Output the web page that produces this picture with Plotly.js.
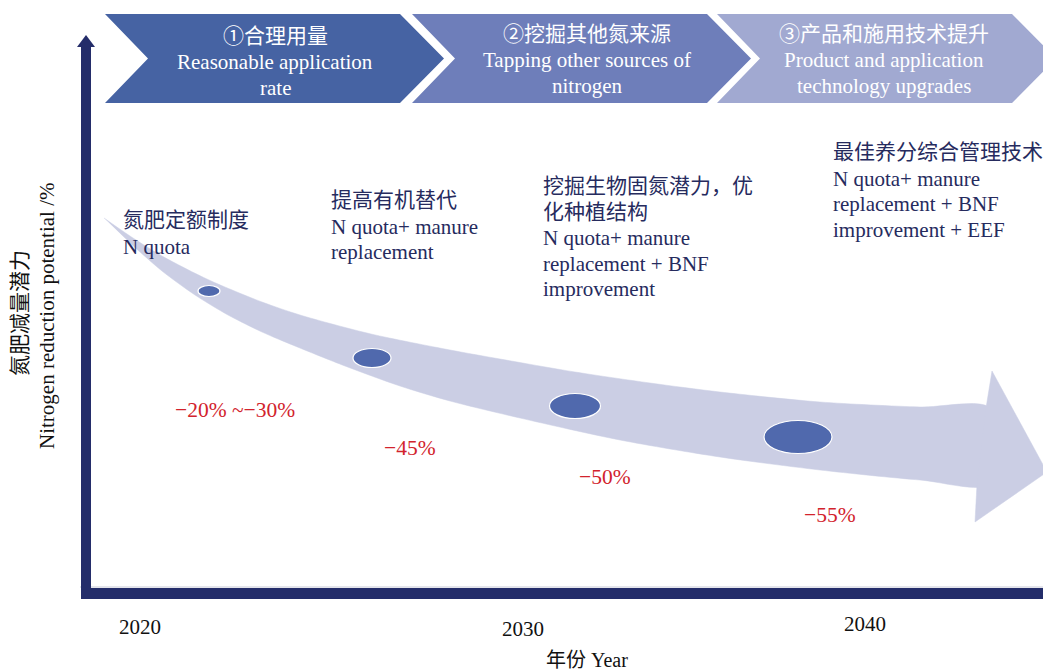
<!DOCTYPE html>
<html><head><meta charset="utf-8">
<script src="https://cdn.plot.ly/plotly-3.0.1.min.js"></script>
<style>body{margin:0;background:#fff}#chart{width:1043px;height:672px}</style>
</head><body><div id="chart"></div>
<script>
// ---- data ----
const stageCN = ['①合理用量', '②挖掘其他氮来源', '③产品和施用技术提升'];
const stageEN = [['Reasonable application', 'rate'], ['Tapping other sources of', 'nitrogen'], ['Product and application', 'technology upgrades']];
const strategyCN = [['氮肥定额制度'], ['提高有机替代'], ['挖掘生物固氮潜力，优', '化种植结构'], ['最佳养分综合管理技术']];
const strategyEN = [['N quota'], ['N quota+ manure', 'replacement'], ['N quota+ manure', 'replacement + BNF', 'improvement'], ['N quota+ manure', 'replacement + BNF', 'improvement + EEF']];
const reductionLabels = ['\u221220% ~\u221230%', '\u221245%', '\u221250%', '\u221255%'];
const yearTicks = ['2020', '2030', '2040'];
const yTitleCN = '氮肥减量潜力';
const yTitleEN = 'Nitrogen reduction potential /%';
const xTitle = '年份 Year';

// ---- layout geometry (pixel-like diagram coordinates) ----
const FONT = 'Liberation Serif, Times New Roman, Noto Sans CJK SC, serif';
const NAVY = '#242d6a';
const TEXT = '#262b5e';
const RED = '#d2232d';

const chevronX = [105, 412, 717];
const chevronW = 295, chevronD = 44, cTop = 14, cBot = 103, cMid = 58.5;
const chevronColors = ['#4663a3', '#6e7eba', '#a1a9d1'];
const stageTextX = [275, 587, 884];
const stageTextY = [[36, 62, 88], [34, 60, 86], [34, 60, 86]];

const ellipseCX = [209, 372, 575, 798];
const ellipseCY = [291, 358, 406, 437];
const ellipseW = [22, 38, 51, 68];
const ellipseH = [11, 19, 25, 33];

const stratX = [122, 330, 542, 832];
const stratY0 = [220, 200, 186, 152];
const lineH = 25.6;

const redX = [235, 410, 605, 830];
const redY = [410, 448, 477, 515];

const tickX = [140, 523, 865];
const tickY = [627, 629, 624];

// arrow band outline
const upper = [[104,218],[130,236],[162,256],[209,280],[262,302],[300,315],[371,334],[450,350],[500,359],[575,372],[650,383],[720,392],[820,402],[920,407],[990,408]];
const lower = [[990,484],[920,480],[820,470],[720,457],[620,440],[520,418],[450,401],[400,386],[345,366],[295,346],[262,332],[228,315],[195,295],[162,271],[130,243]];
const head = [[986,408],[992,371],[1047,472],[975,522],[977,484]];

const band = upper.concat(lower);
const traces = [
  {x: band.map(p=>p[0]), y: band.map(p=>p[1]), mode:'lines', fill:'toself', fillcolor:'#cbcee4',
   line:{color:'#cbcee4', width:0.5, shape:'spline', smoothing:0.8}, hoverinfo:'skip', showlegend:false},
  {x: head.map(p=>p[0]), y: head.map(p=>p[1]), mode:'lines', fill:'toself', fillcolor:'#cbcee4',
   line:{color:'#cbcee4', width:0.5}, hoverinfo:'skip', showlegend:false}
];

const shapes = [];
const annotations = [];

// chevrons
chevronX.forEach((x0, i) => {
  const x1 = x0 + chevronW;
  shapes.push({type:'path', layer:'below', xref:'x', yref:'y',
    path:`M${x0},${cTop} L${x1},${cTop} L${x1+chevronD},${cMid} L${x1},${cBot} L${x0},${cBot} L${x0+chevronD-1},${cMid} Z`,
    fillcolor: chevronColors[i], line:{width:0}});
  const lines = [stageCN[i]].concat(stageEN[i]);
  lines.forEach((t, j) => annotations.push({x: stageTextX[i], y: stageTextY[i][j], xref:'x', yref:'y', text:t,
    showarrow:false, xanchor:'center', yanchor:'middle', borderpad:0, font:{family:FONT, size:21, color:'#ffffff'}}));
});

// axes (navy L with arrow)
shapes.push({type:'line', xref:'x', yref:'y', x0:80, x1:1043, y0:587, y1:587, line:{color:'#c8cad8', width:1}});
shapes.push({type:'rect', xref:'x', yref:'y', x0:81, x1:91, y0:44, y1:599, fillcolor:NAVY, line:{width:0}});
shapes.push({type:'rect', xref:'x', yref:'y', x0:81, x1:1043, y0:588, y1:599, fillcolor:NAVY, line:{width:0}});
shapes.push({type:'path', xref:'x', yref:'y', path:'M77,47 L86,35 L95,47 Z', fillcolor:NAVY, line:{width:0}});

// ellipses
ellipseCX.forEach((cx, i) => {
  shapes.push({type:'circle', xref:'x', yref:'y', x0:cx-ellipseW[i]/2, x1:cx+ellipseW[i]/2,
    y0:ellipseCY[i]-ellipseH[i]/2, y1:ellipseCY[i]+ellipseH[i]/2, fillcolor:'#5069ad', line:{color:'#ffffff', width:1.2}});
});

// strategy texts
strategyCN.forEach((cn, i) => {
  const lines = cn.concat(strategyEN[i]);
  lines.forEach((t, j) => annotations.push({x: stratX[i], y: stratY0[i] + j*lineH + (j>=cn.length?1:0), xref:'x', yref:'y', text:t,
    showarrow:false, xanchor:'left', yanchor:'middle', borderpad:0, font:{family:FONT, size:21, color:TEXT}}));
});

// reduction labels
reductionLabels.forEach((t, i) => annotations.push({x: redX[i], y: redY[i], xref:'x', yref:'y', text:t,
  showarrow:false, xanchor:'center', yanchor:'middle', font:{family:FONT, size:21.5, color:RED}}));

// year ticks
yearTicks.forEach((t, i) => annotations.push({x: tickX[i], y: tickY[i], xref:'x', yref:'y', text:t,
  showarrow:false, xanchor:'center', yanchor:'middle', font:{family:FONT, size:21, color:'#111111'}}));

// axis titles
annotations.push({x:587, y:660, xref:'x', yref:'y', text:xTitle, showarrow:false, xanchor:'center', yanchor:'middle',
  borderpad:0, font:{family:FONT, size:20, color:'#111111'}});
annotations.push({x:20, y:313, xref:'x', yref:'y', text:yTitleCN, showarrow:false, textangle:-90, xanchor:'center', yanchor:'middle',
  font:{family:FONT, size:21, color:'#111111'}});
annotations.push({x:47, y:316, xref:'x', yref:'y', text:yTitleEN, showarrow:false, textangle:-90, xanchor:'center', yanchor:'middle',
  font:{family:FONT, size:21, color:'#111111'}});

const layout = {
  width:1043, height:672, margin:{l:0, r:0, t:0, b:0},
  paper_bgcolor:'#ffffff', plot_bgcolor:'#ffffff',
  xaxis:{range:[0,1043], visible:false, fixedrange:true},
  yaxis:{range:[672,0], visible:false, fixedrange:true},
  shapes, annotations, showlegend:false
};
Plotly.newPlot('chart', traces, layout, {staticPlot:true, displayModeBar:false});
</script></body></html>
